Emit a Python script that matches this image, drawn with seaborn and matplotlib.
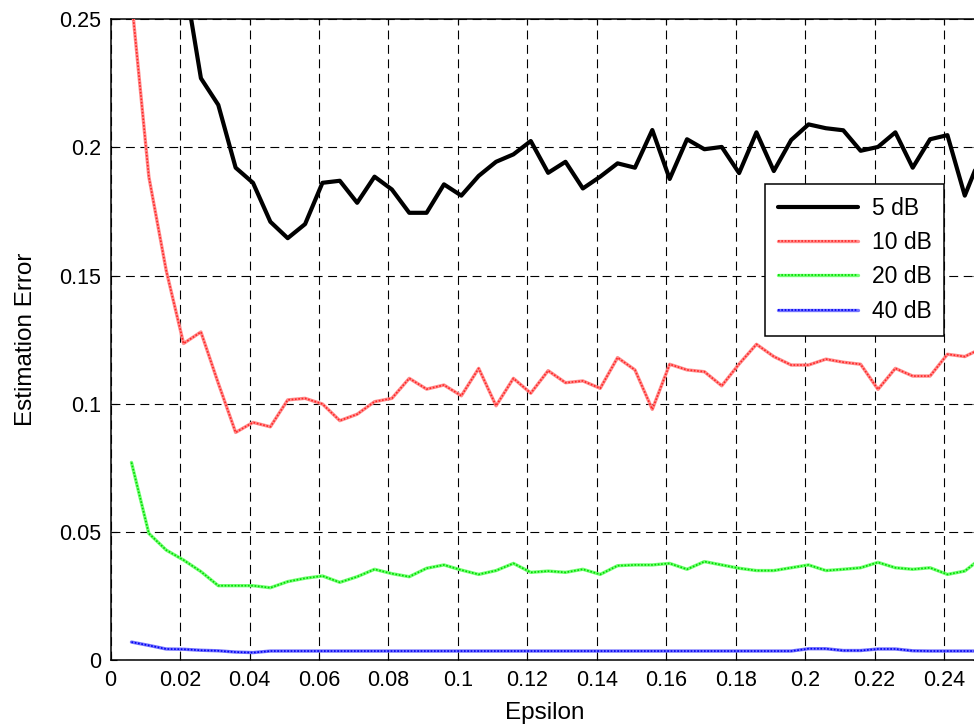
import numpy as np
import matplotlib
matplotlib.use("Agg")
import matplotlib.pyplot as plt
from matplotlib.legend_handler import HandlerTuple
import seaborn as sns

# Sweep of the regularisation parameter
epsilon = np.round(0.006 + 0.005 * np.arange(50), 3)

err_5db = [0.44, 0.36, 0.31, 0.268, 0.227, 0.2166, 0.1921, 0.1862, 0.171, 0.1646,
           0.1701, 0.1862, 0.187, 0.1784, 0.1886, 0.1836, 0.1745, 0.1745, 0.1856, 0.1812,
           0.1889, 0.1944, 0.1973, 0.2025, 0.1901, 0.1944, 0.184, 0.1886, 0.1938, 0.1921,
           0.2068, 0.1877, 0.2032, 0.1993, 0.2002, 0.19, 0.2059, 0.1908, 0.2029, 0.209,
           0.2075, 0.2067, 0.1987, 0.2002, 0.2059, 0.1921, 0.2032, 0.2048, 0.1812, 0.198]

err_10db = [0.258, 0.1886, 0.152, 0.1235, 0.128, 0.108, 0.0888, 0.0927, 0.091, 0.1015,
            0.1021, 0.0999, 0.0934, 0.0959, 0.1008, 0.1021, 0.1099, 0.1057, 0.1073, 0.1031,
            0.1138, 0.0992, 0.1099, 0.1041, 0.1129, 0.1082, 0.1089, 0.106, 0.118, 0.1132,
            0.0978, 0.1154, 0.1132, 0.1125, 0.107, 0.1155, 0.1232, 0.1184, 0.1151, 0.1151,
            0.1174, 0.1162, 0.1154, 0.1056, 0.1138, 0.1108, 0.1108, 0.1193, 0.1184, 0.1217]

err_20db = [0.0771, 0.0494, 0.0429, 0.039, 0.0345, 0.029, 0.029, 0.029, 0.0282, 0.0306,
            0.0319, 0.0328, 0.0303, 0.0325, 0.0354, 0.0337, 0.0325, 0.0358, 0.0371, 0.0351,
            0.0334, 0.0349, 0.0377, 0.0342, 0.0347, 0.0342, 0.0354, 0.0334, 0.0368, 0.0371,
            0.0371, 0.0377, 0.0354, 0.0384, 0.0371, 0.0358, 0.0349, 0.0349, 0.036, 0.0371,
            0.0349, 0.0354, 0.036, 0.0381, 0.036, 0.0354, 0.036, 0.0334, 0.0347, 0.040]

err_40db = [0.0070, 0.0057, 0.0043, 0.0042, 0.0038, 0.0036, 0.0031, 0.0029, 0.0035, 0.0035,
            0.0035, 0.0035, 0.0035, 0.0035, 0.0035, 0.0035, 0.0035, 0.0035, 0.0035, 0.0035,
            0.0035, 0.0035, 0.0035, 0.0035, 0.0035, 0.0035, 0.0035, 0.0035, 0.0035, 0.0035,
            0.0035, 0.0035, 0.0035, 0.0035, 0.0035, 0.0035, 0.0035, 0.0035, 0.0035, 0.0044,
            0.0044, 0.0037, 0.0037, 0.0043, 0.0043, 0.0036, 0.0035, 0.0035, 0.0035, 0.0035]

labels = ["5 dB", "10 dB", "20 dB", "40 dB"]
x_ticks = [0, 0.02, 0.04, 0.06, 0.08, 0.1, 0.12, 0.14, 0.16, 0.18, 0.2, 0.22, 0.24]
x_ticklabels = ["0", "0.02", "0.04", "0.06", "0.08", "0.1", "0.12", "0.14", "0.16",
                "0.18", "0.2", "0.22", "0.24"]
y_ticks = [0, 0.05, 0.1, 0.15, 0.2, 0.25]
y_ticklabels = ["0", "0.05", "0.1", "0.15", "0.2", "0.25"]

sns.set_style("ticks")
plt.rcParams["font.family"] = ["Liberation Sans", "DejaVu Sans"]
plt.rcParams["text.color"] = "black"
plt.rcParams["axes.labelcolor"] = "black"
plt.rcParams["xtick.color"] = "black"
plt.rcParams["ytick.color"] = "black"

fig = plt.figure(figsize=(9.74, 7.26), dpi=100)
ax = fig.add_axes([0.1136, 0.0909, 0.8912, 0.8825])

# 5 dB: plain thick black line
sns.lineplot(x=epsilon, y=err_5db, ax=ax, color="black", linewidth=3.0,
             legend=False, zorder=5)
h5 = ax.lines[-1]

# dotted lines drawn over a lighter band of the same hue
styles = [
    (err_10db, (1.0, 0.55, 0.55), (1.0, 0.15, 0.15)),
    (err_20db, (0.45, 1.0, 0.45), (0.0, 0.85, 0.0)),
    (err_40db, (0.45, 0.45, 1.0), (0.0, 0.0, 0.95)),
]
handles = [h5]
for vals, light, dark in styles:
    sns.lineplot(x=epsilon, y=vals, ax=ax, color=light, linewidth=2.4,
                 legend=False, zorder=4)
    base = ax.lines[-1]
    sns.lineplot(x=epsilon, y=vals, ax=ax, color=dark, linewidth=1.2,
                 linestyle=(0, (1, 1)), legend=False, zorder=4)
    dots = ax.lines[-1]
    handles.append((base, dots))

ax.set_xlim(0, 0.25)
ax.set_ylim(0, 0.25)
ax.set_xticks(x_ticks)
ax.set_xticklabels(x_ticklabels)
ax.set_yticks(y_ticks)
ax.set_yticklabels(y_ticklabels)

ax.grid(True, color="black", linestyle=(0, (8, 5)), linewidth=0.8)
ax.set_axisbelow(True)
for side in ["top", "right", "left", "bottom"]:
    ax.spines[side].set_visible(True)
    ax.spines[side].set_linewidth(1.1)
    ax.spines[side].set_color("black")

ax.tick_params(direction="in", length=4, width=0.8, labelsize=15.5,
               top=True, right=True, colors="black", pad=7)

ax.set_xlabel("Epsilon", fontsize=17.5, labelpad=8)
ax.set_ylabel("Estimation Error", fontsize=17.5, labelpad=16)

leg = ax.legend(handles, labels, handler_map={tuple: HandlerTuple(ndivide=1)},
                loc="upper left", bbox_to_anchor=(0.7854, 0.7466),
                bbox_transform=fig.transFigure, borderaxespad=0,
                fontsize=16.5, handlelength=3.5, handletextpad=0.6,
                labelspacing=0.5, borderpad=0.55, fancybox=False, framealpha=1)
leg.get_frame().set_edgecolor("black")
leg.get_frame().set_linewidth(1.1)

fig.savefig("out.png", dpi=100)
